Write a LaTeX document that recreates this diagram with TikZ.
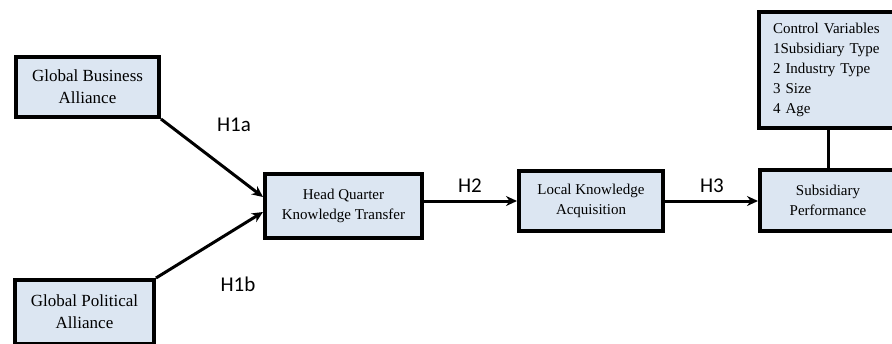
\documentclass[tikz,border=0pt]{standalone}
\usepackage{fontspec}
\setmainfont{Liberation Serif}
\newfontfamily\hlabelfont{Carlito}
\usetikzlibrary{arrows.meta}
\definecolor{boxblue}{RGB}{220,230,242}
\tikzset{
  varbox/.style={draw=black,line width=4pt,fill=boxblue,align=center,
    font=\fontsize{15}{20}\selectfont,inner sep=0pt},
  bigtext/.style={font=\fontsize{17}{22}\selectfont},
  hyparrow/.style={line width=3pt,-{Stealth[length=11pt,width=10pt]}},
  hyplabel/.style={font=\hlabelfont\fontsize{21}{24}\selectfont}
}
\begin{document}
\begin{tikzpicture}[x=1pt,y=-1pt]
			\useasboundingbox (0,0) rectangle (892,343);
			\node[varbox,bigtext,minimum width=143pt,minimum height=60pt] (gba) at (87.5,87) {Global Business\\Alliance};
			\node[varbox,bigtext,minimum width=139pt,minimum height=64pt] (gpa) at (84.5,312) {Global Political\\Alliance};
			\node[varbox,minimum width=157pt,minimum height=64pt] (hq) at (343.5,206) {Head Quarter\\Knowledge Transfer};
			\node[varbox,minimum width=144pt,minimum height=60pt] (lka) at (591,201) {Local Knowledge\\Acquisition};
			\node[varbox,minimum width=136pt,minimum height=61pt] (sp) at (828,200.5) {Subsidiary\\Performance};
			\node[varbox,minimum width=138pt,minimum height=116pt,align=left,text width=110pt] (cv) at (828,70)
				{Control Variables\\1Subsidiary Type\\2 Industry Type\\3 Size\\4 Age};
			\draw[hyparrow] (gba.south east) -- ([yshift=9pt]hq.west);
			\draw[hyparrow] (gpa.north east) -- ([yshift=-6pt]hq.west);
			\draw[hyparrow] (hq.east |- lka.west) -- (lka.west);
			\draw[hyparrow] (lka.east) -- (sp.west |- lka.east);
			\draw[line width=3pt] (cv.south) -- (sp.north);
			\node[hyplabel] (h1a) at (234,125) {H1a};
			\node[hyplabel] (h1b) at (238,284) {H1b};
			\node[hyplabel] (h2) at (470,186) {H2};
			\node[hyplabel] (h3) at (712,186) {H3};
		\end{tikzpicture}
\end{document}
